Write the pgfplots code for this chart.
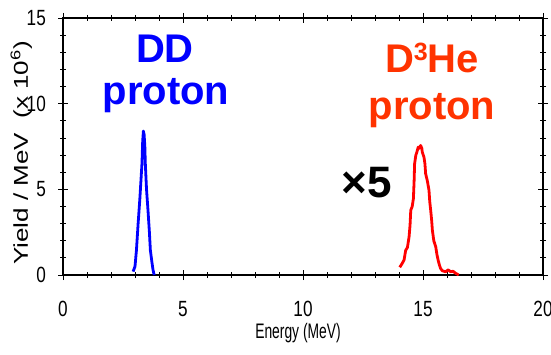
\documentclass[border=0pt]{standalone}
\usepackage{fontspec}
\setmainfont{Liberation Sans}
\newfontfamily\ticknarrow[FakeStretch=0.78]{Liberation Sans}
\newfontfamily\labnarrow[FakeStretch=0.66]{Liberation Sans}
\newfontfamily\labwide[FakeStretch=1.3]{Liberation Sans}
\usepackage{pgfplots}
\pgfplotsset{compat=1.18}
\definecolor{ddblue}{RGB}{0,0,255}
\definecolor{hetext}{RGB}{255,51,0}
\definecolor{heline}{RGB}{255,0,0}
\begin{document}
\begin{tikzpicture}[x=1pt,y=1pt]
\useasboundingbox (0,0) rectangle (551,354);
\begin{axis}[
  at={(63pt,79pt)}, anchor=south west,
  scale only axis, width=480pt, height=257pt,
  xmin=0, xmax=20, ymin=0, ymax=15,
  xtick={0,5,10,15,20}, ytick={0,5,10,15},
  minor x tick num=4, minor y tick num=4,
  tick align=center,
  major tick length=10pt, minor tick length=6pt,
  every tick/.style={black, line width=0.8pt},
  axis line style={line width=1.6pt},
  /pgf/number format/assume math mode=true,
  xticklabel style={font=\ticknarrow\fontsize{22}{22}\selectfont, inner sep=0pt, yshift=-21pt},
  yticklabel style={font=\ticknarrow\fontsize{22}{22}\selectfont, inner sep=0pt, xshift=-12pt},
]
\addplot[ddblue, line width=2.8pt, line join=round] coordinates {
(2.92,0.2) (3.00,0.5) (3.06,1.45) (3.13,3.0) (3.20,4.4) (3.26,5.8) (3.29,6.5)
(3.32,7.8) (3.35,8.4) (3.38,8.2) (3.41,7.5) (3.43,6.5) (3.48,5.0) (3.54,3.8)
(3.60,2.5) (3.64,1.45) (3.70,0.8) (3.75,0.3) (3.80,0.0)
};
\addplot[heline, line width=2.8pt, line join=round] coordinates {
(14.03,0.45) (14.10,0.6) (14.21,0.87) (14.28,1.45) (14.35,1.6) (14.42,2.23)
(14.46,2.9) (14.49,3.78) (14.55,4.0) (14.60,4.46) (14.63,5.5) (14.65,6.49)
(14.70,6.98) (14.75,7.2) (14.80,7.46) (14.85,7.4) (14.90,7.56) (14.95,7.4)
(14.97,7.17) (15.04,6.88) (15.08,6.5) (15.11,5.91) (15.18,5.5) (15.25,4.94)
(15.28,4.3) (15.32,3.78) (15.36,3.2) (15.39,2.62) (15.45,2.0) (15.53,1.65)
(15.58,1.2) (15.63,0.87) (15.68,0.6) (15.73,0.39) (15.80,0.25) (15.94,0.19)
(16.05,0.3) (16.15,0.19) (16.25,0.22) (16.36,0.1) (16.49,0.0)
};
\end{axis}
\node[anchor=base, text=ddblue, font=\fontsize{40}{40}\selectfont\bfseries] at (165,291) {DD};
\node[anchor=base, text=ddblue, font=\fontsize{40}{40}\selectfont\bfseries] at (166,249) {proton};
\node[anchor=base, text=hetext, font=\fontsize{40}{40}\selectfont\bfseries] at (432,281) {D\raisebox{0.32em}{\fontsize{25}{25}\selectfont 3}He};
\node[anchor=base, text=hetext, font=\fontsize{40}{40}\selectfont\bfseries] at (432,234) {proton};
\node[anchor=base, font=\fontsize{44}{44}\selectfont\bfseries] at (367,157) {×5};
\node[anchor=base, font=\labnarrow\fontsize{21}{21}\selectfont] at (298,16) {Energy (MeV)};
\node[rotate=90, anchor=base, inner sep=0pt, font=\labwide\fontsize{20}{20}\selectfont] at (28,201) {Yield / MeV\ \ (x 10\textsuperscript{6})};
\end{tikzpicture}
\end{document}
